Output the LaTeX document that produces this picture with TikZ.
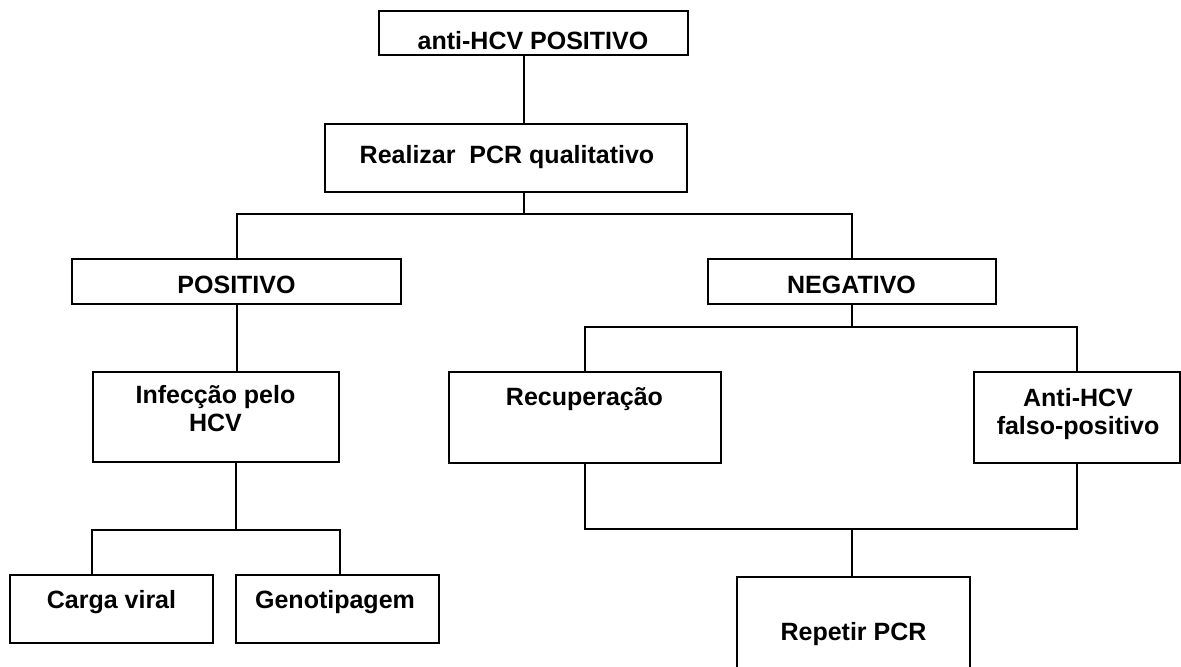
\documentclass[tikz,border=0pt]{standalone}
\usepackage{fontspec}
\setmainfont{Liberation Sans}

\begin{document}
\begin{tikzpicture}[x=0.5pt,y=-0.5pt,
  box/.style={draw,line width=1pt,inner sep=0pt},
  txt/.style={font=\bfseries\fontsize{12.5}{14}\selectfont,inner sep=0pt,align=center},
  wire/.style={line width=1pt}]
\clip (0,0) rectangle (1181,666);
% boxes
\node[box,minimum width=154.5pt,minimum height=22pt] (top) at (533.5,33) {};
\node[box,minimum width=181pt,minimum height=34pt] (pcr) at (506,158) {};
\node[box,minimum width=164.5pt,minimum height=22.5pt] (pos) at (236.5,281.5) {};
\node[box,minimum width=144pt,minimum height=22.5pt] (neg) at (851.5,281.5) {};
\node[box,minimum width=123pt,minimum height=45pt] (inf) at (216,417) {};
\node[box,minimum width=136pt,minimum height=45.5pt] (rec) at (585,417.5) {};
\node[box,minimum width=103pt,minimum height=45.5pt] (fp) at (1077,417.5) {};
\node[box,minimum width=101.5pt,minimum height=34pt] (cv) at (111.5,609) {};
\node[box,minimum width=101.5pt,minimum height=34pt] (gen) at (337.5,609) {};
\node[box,minimum width=116.5pt,minimum height=61.5pt] (rep) at (853.5,638.5) {};
% texts
\node[txt,anchor=base] (topT) at (533,49) {anti-HCV POSITIVO};
\node[txt,anchor=base] (pcrT) at (507,163) {Realizar\ \ PCR qualitativo};
\node[txt,anchor=base] (posT) at (236.5,293) {POSITIVO};
\node[txt,anchor=base] (negT) at (851.5,293) {NEGATIVO};
\node[txt] (infT) at (215.5,409) {Infecção pelo\\HCV};
\node[txt,anchor=base] (recT) at (584.5,405) {Recuperação};
\node[txt] (fpT) at (1078,414) {Anti-HCV\\falso-positivo};
\node[txt,anchor=base] (cvT) at (111.5,608) {Carga viral};
\node[txt,anchor=base] (genT) at (335,608) {Genotipagem};
\node[txt,anchor=base] (repT) at (853.5,640) {Repetir PCR};
% forks
\coordinate (f1) at (524,214);
\coordinate (f2) at (851.5,327);
\coordinate (f3) at (236,530);
\coordinate (f4) at (851.5,529);
% lines
\draw[wire] (top.south -| f1) -- (pcr.north -| f1);
\draw[wire] (pcr.south -| f1) -- (f1);
\draw[wire] (pos.north) |- (f1) -| (neg.north);
\draw[wire] (pos.south) -- (pos.south |- inf.north);
\draw[wire] (neg.south) -- (f2);
\draw[wire] (rec.north) |- (f2) -| (fp.north);
\draw[wire] (inf.south -| f3) -- (f3);
\draw[wire] (cv.north -| inf.west) |- (f3) -| (gen.north -| inf.east);
\draw[wire] (rec.south) |- (f4) -| (fp.south);
\draw[wire] (f4) -- (rep.north -| f4);
\end{tikzpicture}
\end{document}
